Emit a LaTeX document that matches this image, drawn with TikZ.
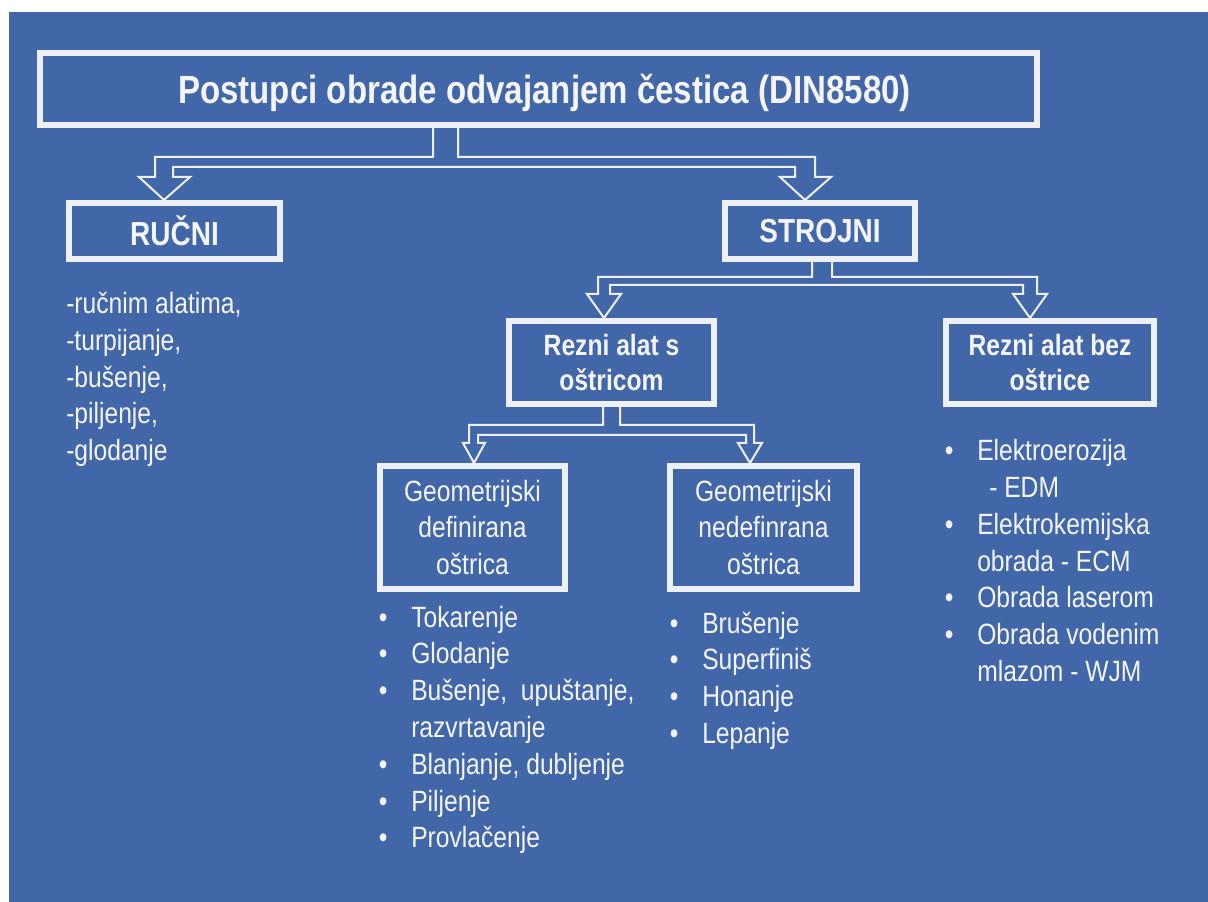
\documentclass[tikz,border=0pt]{standalone}
\usepackage{fontspec}
\setmainfont{Liberation Sans}[FakeStretch=0.84]
\usetikzlibrary{calc}
\definecolor{bg}{RGB}{66,103,168}
\definecolor{ln}{RGB}{238,240,248}
\definecolor{tx}{RGB}{244,245,250}
\newcommand\titlefnt{\fontsize{29.5pt}{35pt}\selectfont\bfseries}
\newcommand\headfnt{\fontsize{25pt}{30pt}\selectfont\bfseries}
\newcommand\reznifnt{\fontsize{22pt}{26.3pt}\selectfont\bfseries}
\newcommand\bodyfnt{\fontsize{22pt}{27.5pt}\selectfont}
\newcommand\blt{\llap{•\hspace{17.8pt}}}
\begin{document}
\begin{tikzpicture}[x=0.75pt,y=-0.75pt,
  box/.style={draw=ln, line width=4.5pt, fill=bg, text=tx, align=center, inner sep=0pt},
  fork/.style={draw=ln, line width=1.5pt, line join=miter},
  listtext/.style={text=tx, inner sep=0pt, anchor=base west, font=\bodyfnt},
]
\useasboundingbox (0,0) rectangle (1208,902);
\fill[white] (0,0) rectangle (1208,902);
\fill[bg] (9,12) rectangle (1208,902);

% boxes
\node[box, minimum width=747.75pt, minimum height=54pt, font=\titlefnt] (top) at (538.5,89) {\hspace*{9pt}Postupci obrade odvajanjem čestica (DIN8580)\rule{0pt}{28pt}};
\node[box, minimum width=158.25pt, minimum height=42pt, font=\headfnt] (rucni) at (174.5,231) {RUČNI};
\node[box, minimum width=142.5pt, minimum height=42pt, font=\headfnt] (strojni) at (820,231) {STROJNI};
\node[box, minimum width=153.75pt, minimum height=62.25pt, font=\reznifnt] (rs) at (611.5,362.5) {Rezni alat s\\oštricom};
\node[box, minimum width=156pt, minimum height=62.25pt, font=\reznifnt] (rb) at (1050,362.5) {Rezni alat bez\\oštrice};
\node[box, minimum width=138.75pt, minimum height=92.25pt, font=\bodyfnt] (gd) at (472.5,527.5) {Geometrijski\\definirana\\oštrica};
\node[box, minimum width=140.25pt, minimum height=92.25pt, font=\bodyfnt] (gn) at (763.5,527.5) {Geometrijski\\nedefinrana\\oštrica};

% fork arrows
\draw[fork] (433,0 |- top.south) -- (433,157) -- (155,157) -- (155,177) -- (139,177)
  -- (164,0 |- rucni.north) -- (190,177) -- (173,177) -- (173,167) -- (795,167)
  -- (795,177) -- (780,177) -- (805,0 |- strojni.north) -- (831,177) -- (815,177)
  -- (815,157) -- (458,157) -- (458,0 |- top.south);
\draw[fork] (812,0 |- strojni.south) -- (812,277) -- (598,277) -- (598,294) -- (587,294)
  -- (604,0 |- rs.north) -- (621,294) -- (610,294) -- (610,285) -- (1023,285)
  -- (1023,294) -- (1013,294) -- (1030,0 |- rb.north) -- (1047,294) -- (1037,294)
  -- (1037,277) -- (832,277) -- (832,0 |- strojni.south);
\draw[fork] (603,0 |- rs.south) -- (603,425) -- (469,425) -- (469,443) -- (463,443)
  -- (474,0 |- gd.north) -- (485,443) -- (478,443) -- (478,435) -- (746,435)
  -- (746,443) -- (738,443) -- (750,0 |- gn.north) -- (762,443) -- (754,443)
  -- (754,425) -- (620,425) -- (620,0 |- rs.south);

% lists
\foreach \t [count=\i] in {{-ručnim alatima,},{-turpijanje,},{-bušenje,},{-piljenje,},{-glodanje}}
  \node[listtext] (ru\i) at (66,{314+36.6*(\i-1)}) {\t};

\foreach \b/\t [count=\i] in {1/Tokarenje,1/Glodanje,1/{Bušenje, \ upuštanje,},0/razvrtavanje,1/{Blanjanje, dubljenje},1/Piljenje,1/Provlačenje}
  \node[listtext] (gdl\i) at (411,{627+36.8*(\i-1)}) {\ifnum\b=1 \blt\fi\t};

\foreach \b/\t [count=\i] in {1/Brušenje,1/Superfiniš,1/Honanje,1/Lepanje}
  \node[listtext] (gnl\i) at (702,{633+36.7*(\i-1)}) {\ifnum\b=1 \blt\fi\t};

\foreach \b/\t [count=\i] in {1/Elektroerozija,0/{\hspace{9pt}- EDM},1/Elektrokemijska,0/{obrada - ECM},1/{Obrada laserom},1/{Obrada vodenim},0/{mlazom - WJM}}
  \node[listtext] (rbl\i) at (977,{461+36.7*(\i-1)}) {\ifnum\b=1 \blt\fi\t};
\end{tikzpicture}
\end{document}
